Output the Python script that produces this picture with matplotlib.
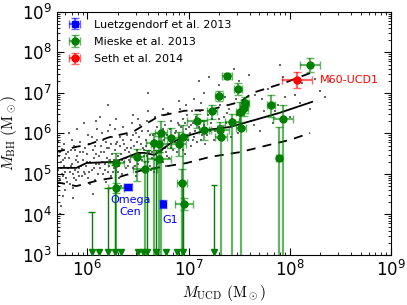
import numpy as np
import matplotlib
matplotlib.use('Agg')
import matplotlib.pyplot as plt

# background cloud, log10(M_UCD), log10(M_BH)
cloud = [
    (5.71,5.10),(5.72,5.45),(5.73,4.85),(5.74,5.30),(5.75,5.62),(5.76,4.95),(5.77,5.20),(5.78,5.05),
    (5.79,5.50),(5.72,3.60),(5.74,4.20),(5.71,5.80),(5.78,4.60),(5.76,5.35),(5.79,4.90),
    (5.81,5.15),(5.82,5.40),(5.83,4.75),(5.84,5.60),(5.85,5.25),(5.86,5.00),(5.87,5.70),(5.88,5.10),
    (5.89,4.85),(5.90,5.45),(5.91,5.30),(5.92,4.95),(5.93,5.55),(5.94,5.20),(5.82,6.00),(5.86,4.40),(5.90,6.10),
    (5.96,5.35),(5.97,5.05),(5.98,5.65),(5.99,5.20),(6.00,5.50),(6.01,4.90),(6.02,5.75),(6.03,5.30),
    (6.04,5.10),(6.05,5.60),(6.06,5.40),(6.07,4.85),(6.08,5.25),(6.09,5.85),(5.97,6.25),(6.05,4.50),(6.08,6.30),
    (6.11,5.45),(6.12,5.15),(6.13,5.70),(6.14,5.30),(6.15,5.00),(6.16,5.55),(6.17,5.25),(6.18,5.80),
    (6.19,5.40),(6.20,5.05),(6.21,5.65),(6.22,5.35),(6.23,4.95),(6.24,5.50),(6.12,6.40),(6.20,6.05),
    (6.26,5.35),(6.27,5.60),(6.28,5.10),(6.29,5.80),(6.30,5.45),(6.31,5.20),(6.32,5.70),(6.33,5.50),
    (6.34,5.00),(6.35,5.85),(6.36,5.30),(6.37,5.60),(6.38,5.15),(6.39,5.95),(6.28,6.35),(6.33,4.70),
    (6.41,5.55),(6.42,5.30),(6.43,5.85),(6.44,5.45),(6.45,5.15),(6.46,5.70),(6.47,5.40),(6.48,6.00),
    (6.49,5.60),(6.50,5.25),(6.51,5.90),(6.52,5.50),(6.53,5.75),(6.54,5.35),(6.45,6.45),(6.52,6.20),
    (6.56,5.60),(6.57,5.30),(6.58,5.85),(6.59,5.45),(6.60,6.05),(6.61,5.55),(6.62,5.20),(6.63,5.75),
    (6.64,5.40),(6.65,5.95),(6.66,5.65),(6.67,5.35),(6.68,5.80),(6.69,6.15),(6.60,6.55),(6.66,5.05),
    (6.71,5.70),(6.72,5.45),(6.73,6.00),(6.74,5.60),(6.75,5.30),(6.76,5.85),(6.77,6.20),(6.78,5.55),
    (6.79,5.95),(6.80,5.75),(6.81,5.40),(6.82,6.10),(6.83,5.65),(6.84,5.90),(6.75,6.60),
    (6.86,5.80),(6.87,6.05),(6.88,5.55),(6.89,6.25),(6.90,5.90),(6.91,5.65),(6.92,6.15),(6.93,5.75),
    (6.94,6.35),(6.95,5.95),(6.96,5.50),(6.97,6.10),(6.98,6.45),(6.99,5.85),(6.90,6.80),
    (7.01,6.00),(7.02,5.70),(7.04,6.25),(7.05,5.90),(7.07,6.40),(7.08,5.80),(7.10,6.15),(7.11,6.55),
    (7.13,5.95),(7.14,6.30),(7.16,5.75),(7.17,6.10),(7.19,6.45),(7.05,6.85),(7.15,7.00),
    (7.21,6.05),(7.23,6.35),(7.25,5.85),(7.27,6.55),(7.29,6.15),(7.31,6.70),(7.33,5.95),(7.35,6.40),
    (7.37,6.25),(7.40,6.60),(7.42,5.90),(7.44,6.20),(7.47,6.85),(7.49,6.00),(7.30,7.20),
    (7.52,6.45),(7.55,6.10),(7.58,6.75),(7.62,6.30),(7.66,6.95),(7.70,6.05),(7.74,6.55),(7.78,7.10),
    (7.83,6.25),(7.88,6.70),(7.93,7.40),(8.00,6.40),(8.05,6.95),(8.12,7.25),(8.20,6.60),(8.30,7.05),
    (7.60,7.45),(7.45,7.60),
    (5.70,5.25),(5.71,4.70),(5.73,5.55),(5.75,5.00),(5.77,5.75),(5.70,4.95),(5.74,5.15),(5.78,5.40),
    (5.80,4.80),(5.73,4.00),(5.70,3.85),(5.76,4.45),
    (5.81,5.55),(5.83,5.05),(5.85,5.85),(5.87,4.90),(5.89,5.35),(5.91,5.05),(5.93,5.80),(5.95,4.95),
    (5.84,5.20),(5.88,5.60),(5.92,5.15),(5.86,4.65),
    (5.96,5.55),(5.98,5.00),(6.00,5.30),(6.02,5.05),(6.04,5.90),(6.06,5.15),(6.08,5.50),(6.10,5.00),
    (6.01,5.95),(6.07,5.70),(6.03,4.75),(6.09,6.10),
    (6.11,5.25),(6.13,5.55),(6.15,5.85),(6.17,5.10),(6.19,5.65),(6.21,5.20),(6.23,5.75),(6.25,5.05),
    (6.14,6.00),(6.22,6.20),(6.18,4.80),(6.24,5.90),
    (6.26,5.15),(6.28,5.75),(6.30,5.05),(6.32,5.90),(6.34,5.35),(6.36,5.75),(6.38,5.40),(6.40,5.20),
    (6.27,6.10),(6.35,6.15),(6.31,4.90),(6.39,5.65),
    (6.41,5.35),(6.43,5.65),(6.45,5.95),(6.47,5.20),(6.49,5.80),(6.51,5.45),(6.53,5.10),(6.55,5.65),
    (6.44,6.25),(6.50,6.35),(6.48,4.95),(6.54,6.05),
    (6.56,5.45),(6.58,5.70),(6.60,5.30),(6.62,5.95),(6.64,5.55),(6.66,5.85),(6.68,5.50),(6.70,5.70),
    (6.59,6.30),(6.67,6.40),(6.63,5.10),(6.69,5.25),
    (6.71,5.90),(6.73,5.55),(6.75,6.10),(6.77,5.65),(6.79,5.45),(6.81,5.85),(6.83,6.30),(6.85,5.60),
    (6.74,6.45),(6.80,6.50),(6.78,5.20),
    (6.86,6.00),(6.88,5.75),(6.90,6.20),(6.92,5.85),(6.94,5.60),(6.96,6.25),(6.98,5.95),(7.00,6.15),
    (6.91,6.60),(6.97,6.70),
    (7.02,6.20),(7.04,5.85),(7.06,6.05),(7.09,6.30),(7.12,5.85),(7.15,6.20),(7.18,5.95),(7.03,6.55),(7.12,6.75),
    (7.22,6.25),(7.26,6.05),(7.30,6.35),(7.34,6.15),(7.38,6.50),(7.43,6.35),(7.48,6.45),(7.36,6.90),
    (7.55,6.60),(7.65,6.20),(7.72,6.85),(7.85,6.55),(7.95,6.90),(8.10,6.75),(8.25,7.35),(8.35,6.90),
    (7.90,7.70),(8.40,7.30),(6.20,6.70),(6.60,7.00),(7.10,7.30),(7.20,7.40),(7.50,7.30),
]
cloud_lx = [c[0] for c in cloud]
cloud_ly = [c[1] for c in cloud]

# median and scatter of the cloud (log10)
med_lx = [5.69, 5.89, 5.99, 6.27, 6.50, 6.56, 6.66, 6.84, 7.01, 7.19, 7.41, 7.90, 8.22]
med_ly = [5.15, 5.15, 5.27, 5.30, 5.52, 5.52, 5.47, 5.79, 5.96, 6.09, 6.16, 6.51, 6.78]
hi_lx = [5.69, 5.89, 6.00, 6.22, 6.45, 6.56, 6.71, 6.96, 7.21, 7.31, 7.51, 7.63, 7.97, 8.20]
hi_ly = [5.54, 5.67, 5.72, 5.91, 6.04, 6.21, 6.43, 6.56, 6.58, 6.65, 6.78, 7.00, 7.27, 7.49]
lo_lx = [5.69, 5.89, 6.12, 6.32, 6.55, 6.68, 6.98, 7.21, 7.51, 7.80, 8.00, 8.20]
lo_ly = [4.80, 4.70, 4.85, 4.93, 5.10, 5.15, 5.27, 5.42, 5.54, 5.72, 5.84, 6.01]

# Mieske et al. 2013: log x, log y, x err (dex), y err up / down (dex, nan = down to zero)
mieske_lx = [6.28, 6.28, 6.49, 6.57, 6.66, 6.71, 6.73, 6.83, 6.90, 6.94, 6.93, 6.95, 7.08, 7.15,
             7.23, 7.30, 7.31, 7.32, 7.38, 7.43, 7.49, 7.51, 7.55, 7.56, 7.52, 7.81, 7.93, 7.89,
             8.20, 6.71]
mieske_ly = [5.27, 4.65, 5.42, 5.12, 5.77, 5.37, 6.01, 5.89, 5.74, 5.91, 4.78, 4.26, 6.31, 6.09,
             6.56, 6.93, 6.09, 5.91, 7.42, 6.28, 7.10, 6.53, 6.63, 6.75, 6.14, 6.70, 6.36, 5.40,
             7.69, 5.74]
mieske_dx = [0.08, 0.08, 0.07, 0.12, 0.08, 0.12, 0.06, 0.07, 0.07, 0.05, 0.05, 0.09, 0.10, 0.05,
             0.05, 0.04, 0.09, 0.06, 0.05, 0.07, 0.04, 0.04, 0.04, 0.04, 0.05, 0.04, 0.10, 0.03,
             0.10, 0.08]
mieske_up = [0.25, 0.12, 0.20, 0.20, 0.25, 0.18, 0.30, 0.25, 0.30, 0.30, 0.35, 0.15, 0.18, 0.25,
             0.15, 0.12, 0.20, 0.30, 0.08, 0.20, 0.15, 0.25, 0.20, 0.15, 0.40, 0.25, 0.35, 0.75,
             0.17, 0.20]
nan = np.nan
mieske_lo = [nan, 0.12, 0.60, nan, nan, nan, nan, 0.25, 0.30, nan, nan, 0.15, 0.18, 0.25,
             0.20, 0.12, 0.20, nan, 0.08, nan, 0.15, 0.25, 0.20, 0.25, nan, 0.30, nan, nan,
             0.17, 0.20]

# Mieske et al. 2013 upper limits: log x, log of upper value (3.0 = only the arrow)
ul_lx = [6.04, 6.11, 6.20, 6.27, 6.33, 6.50, 6.55, 6.59, 6.68, 6.78, 6.88, 6.94, 7.25]
ul_ly = [4.06, 3.00, 4.65, 5.22, 3.00, 3.00, 3.00, 5.59, 5.59, 3.00, 3.00, 4.78, 4.73]

# Luetzgendorf et al. 2013 (Omega Cen, G1)
lue_lx = [6.40, 6.75]
lue_ly = [4.68, 4.26]
lue_dx = [0.04, 0.02]
lue_dy = [0.08, 0.10]
lue_names = ['Omega\nCen', 'G1']

# Seth et al. 2014 (M60-UCD1)
seth_lx = [8.07]
seth_ly = [7.32]
seth_dx = [0.15]
seth_dy = [0.20]


def logerr(lv, dlo, dhi):
    v = 10 ** lv
    lo = np.where(np.isnan(dlo), v - 1.0, v - 10 ** (lv - np.nan_to_num(dlo)))
    hi = 10 ** (lv + dhi) - v
    return np.vstack([lo, hi])


fig = plt.figure(figsize=(4.07, 3.05), dpi=100)
ax = fig.add_axes([0.140, 0.164, 0.821, 0.797])
ax.set_xscale('log')
ax.set_yscale('log')

ax.scatter(10 ** np.array(cloud_lx), 10 ** np.array(cloud_ly), s=1.2, c='0.4',
           marker='s', linewidths=0, zorder=1)
ax.plot(10 ** np.array(med_lx), 10 ** np.array(med_ly), 'k-', lw=1.3, zorder=2)
ax.plot(10 ** np.array(hi_lx), 10 ** np.array(hi_ly), 'k--', lw=1.3, dashes=(5, 4), zorder=2)
ax.plot(10 ** np.array(lo_lx), 10 ** np.array(lo_ly), 'k--', lw=1.3, dashes=(5, 4), zorder=2)

green = '#008000'
gx = np.array(mieske_lx)
gy = np.array(mieske_ly)
gdx = np.array(mieske_dx)
em = ax.errorbar(10 ** gx, 10 ** gy,
                 xerr=logerr(gx, gdx, gdx),
                 yerr=logerr(gy, np.array(mieske_lo), np.array(mieske_up)),
                 fmt='o', color=green, ms=5, ecolor=(0, 0.5, 0, 0.6), elinewidth=1.6,
                 capsize=3, capthick=1, zorder=4)

ulx = 10 ** np.array(ul_lx)
uly = 10 ** np.array(ul_ly)
ax.vlines(ulx, 1e3, uly, colors=green, lw=1.0, zorder=3)
ax.hlines(uly[uly > 1.1e3], ulx[uly > 1.1e3] / 1.08, ulx[uly > 1.1e3] * 1.08,
          colors=green, lw=1.0, zorder=3)
ax.plot(ulx, np.full(len(ulx), 1.2e3), 'v', color=green, ms=4.5, mec=green,
        clip_on=False, zorder=5)

bx = np.array(lue_lx)
by = np.array(lue_ly)
el = ax.errorbar(10 ** bx, 10 ** by,
                 xerr=logerr(bx, np.array(lue_dx), np.array(lue_dx)),
                 yerr=logerr(by, np.array(lue_dy), np.array(lue_dy)),
                 fmt='s', color='blue', ms=4.5, ecolor=(0, 0, 1, 0.6), elinewidth=1.6,
                 capsize=3, capthick=1, zorder=4)

rx = np.array(seth_lx)
ry = np.array(seth_ly)
es = ax.errorbar(10 ** rx, 10 ** ry,
                 xerr=logerr(rx, np.array(seth_dx), np.array(seth_dx)),
                 yerr=logerr(ry, np.array(seth_dy), np.array(seth_dy)),
                 fmt='o', color='red', ms=5, ecolor=(1, 0, 0, 0.6), elinewidth=1.6,
                 capsize=3, capthick=1, zorder=4)

ax.text(2.67e6, 3.0e4, lue_names[0], color='blue', fontsize=8, ha='center', va='top',
        multialignment='center', linespacing=1.25)
ax.text(6.6e6, 7.2e3, lue_names[1], color='blue', fontsize=8, ha='center', va='center')
ax.text(1.98e8, 2.1e7, 'M60-UCD1', color='red', fontsize=8, ha='left', va='center')

ax.legend([el, em, es], ['Luetzgendorf et al. 2013', 'Mieske et al. 2013', 'Seth et al. 2014'],
          loc='upper left', frameon=False, fontsize=8, numpoints=1, handlelength=1.8,
          borderaxespad=0.3, labelspacing=0.65)

ax.set_xlim(5e5, 1e9)
ax.set_ylim(1e3, 1e9)
ax.tick_params(which='both', direction='in', top=True, right=True, labelsize=12)
ax.tick_params(which='major', length=5)
ax.tick_params(which='minor', length=2.5)
ax.set_xlabel(r'$M_{\rm UCD}\ (\rm M_\odot)$', fontsize=11, math_fontfamily='cm', labelpad=2)
ax.set_ylabel(r'$M_{\rm BH}\ (\rm M_\odot)$', fontsize=11, math_fontfamily='cm', labelpad=2)

fig.savefig('out.png', dpi=100)
